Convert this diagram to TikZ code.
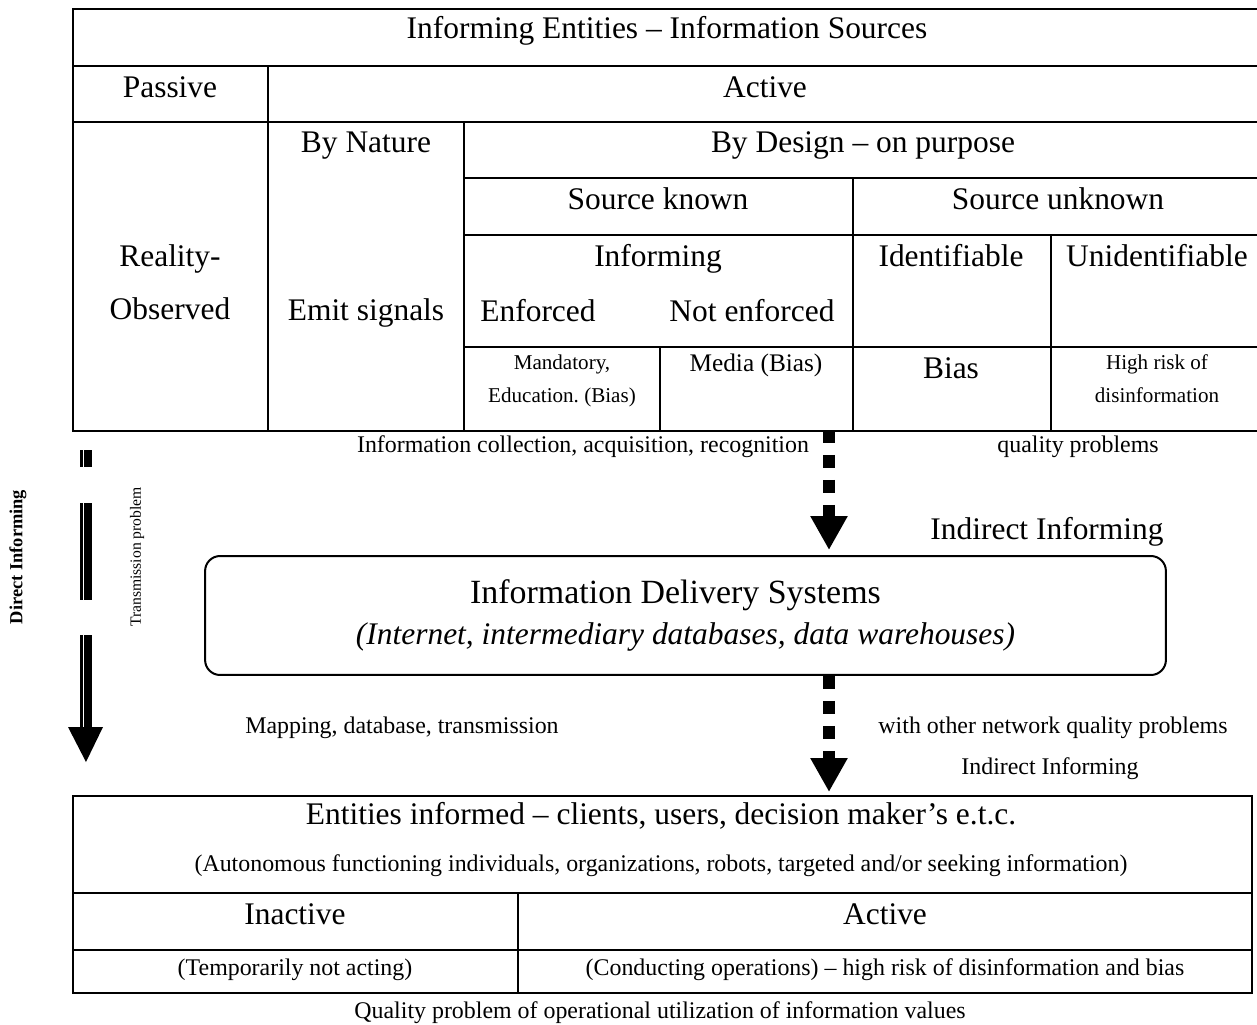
\documentclass[tikz,border=0pt]{standalone}
\usepackage{fontspec}
\setmainfont{Liberation Serif}
\usetikzlibrary{arrows.meta, calc}

\newcommand\bigsz{\fontsize{17.9}{23.2}\selectfont}
\newcommand\midsz{\fontsize{13.6}{16}\selectfont}
\newcommand\smallsz{\fontsize{12}{14}\selectfont}

\tikzset{
    % Table rules
    rule/.style={line width=0.04cm, black},
    % Text styles
    big text/.style={anchor=base, inner sep=0pt, font=\bigsz},
    mid text/.style={anchor=base, inner sep=0pt, font=\midsz},
    small text/.style={anchor=base, inner sep=0pt, font=\smallsz},
    % Table frames
    frame/.style={rule, draw, anchor=north west, inner sep=0pt},
    % Rounded system box
    system/.style={
        draw,
        rounded corners=0.3cm,
        line width=0.04cm,
        minimum width=19.22cm,
        minimum height=2.38cm,
        align=center,
        font=\bigsz
    },
    % Dashed block arrow
    dashflow/.style={
        line width=0.24cm,
        dash pattern=on 0.26cm off 0.24cm,
        -{Triangle[length=0.68cm, width=0.7cm]}
    },
    % Rails of the direct arrow
    thin rail/.style={line width=0.05cm},
    thick rail/.style={line width=0.155cm}
}

\begin{document}
\begin{tikzpicture}[x=0.02cm, y=-0.02cm]
        \useasboundingbox (0,0) rectangle (1257,1024);

        % Information sources table
        \node[frame, minimum width=23.8cm, minimum height=8.44cm] (src) at (72,8) {};
        \draw[rule] (72,66) -- (1262,66);
        \draw[rule] (72,122) -- (1262,122);
        \draw[rule] (268,66) -- (268,430);
        \draw[rule] (464,122) -- (464,430);
        \draw[rule] (464,178) -- (1262,178);
        \draw[rule] (464,235) -- (1262,235);
        \draw[rule] (853,178) -- (853,430);
        \draw[rule] (1051,235) -- (1051,430);
        \draw[rule] (464,347) -- (1262,347);
        \draw[rule] (660,347) -- (660,430);

        \node[big text] (title) at (667,39) {Informing Entities -- Information Sources};
        \node[big text] (passive) at (170,97) {Passive};
        \node[big text] (active) at (765,97) {Active};
        \node[big text] (nature) at (366,153) {By Nature};
        \node[big text] (design) at (863,153) {By Design -- on purpose};
        \node[big text] (known) at (658,209) {Source known};
        \node[big text] (unknown) at (1058,209) {Source unknown};
        \node[big text] (informing) at (658,266) {Informing};
        \node[big text] (ident) at (951,266) {Identifiable};
        \node[big text] (unident) at (1157,266) {Unidentifiable};
        \node[big text] (reality) at (170,266) {Reality-};
        \node[big text] (observed) at (170,319) {Observed};
        \node[big text] (emit) at (366,320) {Emit signals};
        \node[big text] (enforced) at (538,321) {Enforced};
        \node[big text] (notenf) at (752,321) {Not enforced};
        \node[small text] (mandatory) at (562,369) {Mandatory,};
        \node[small text] (education) at (562,402) {Education.\ (Bias)};
        \node[mid text, font=\fontsize{14.4}{17}\selectfont] (media) at (756,371) {Media (Bias)};
        \node[big text] (bias) at (951,378) {Bias};
        \node[small text] (highrisk) at (1157,369) {High risk of};
        \node[small text] (disinfo) at (1157,402) {disinformation};

        % Labels between the blocks
        \node[mid text] (collection) at (583,452) {Information collection, acquisition, recognition};
        \node[mid text] (quality) at (1078,452) {quality problems};
        \node[big text] (indirect) at (1047,539) {Indirect Informing};
        \node[mid text] (mapping) at (402,733) {Mapping, database, transmission};
        \node[mid text] (network) at (1053,733) {with other network quality problems};
        \node[mid text] (indirect2) at (1050,774) {Indirect Informing};

        % Delivery systems
        \node[system] (ids) at (685.5,615.5) {{\fontsize{19.3}{23.2}\selectfont Information Delivery Systems}\hspace*{0.4cm}\\\textit{(Internet, intermediary databases, data warehouses)}};

        % Informed entities table
        \node[frame, minimum width=23.58cm, minimum height=3.94cm] (users) at (72,795) {};
        \draw[rule] (72,893) -- (1251,893);
        \draw[rule] (72,950) -- (1251,950);
        \draw[rule] (518,893) -- (518,992);

        \node[big text] (entities) at (661,824) {Entities informed -- clients, users, decision maker’s e.t.c.};
        \node[mid text] (autonomous) at (661,871) {(Autonomous functioning individuals, organizations, robots, targeted and/or seeking information)};
        \node[big text] (inactive) at (295,924) {Inactive};
        \node[big text] (active2) at (885,924) {Active};
        \node[mid text] (temporarily) at (295,975) {(Temporarily not acting)};
        \node[mid text] (conducting) at (885,975) {(Conducting operations) -- high risk of disinformation and bias};
        \node[mid text] (utilization) at (660,1018) {Quality problem of operational utilization of information values};

        % Indirect flow
        \coordinate (collect) at (829,430);
        \draw[dashflow, shorten >=0.1cm] (collect) -- (collect |- ids.north);
        \draw[dashflow, shorten >=0.06cm] (collect |- ids.south) -- (collect |- users.north);

        % Direct flow
        \foreach \a/\b in {450/467, 503/600, 635/727} {
            \draw[thin rail] (81.3,\a) -- (81.3,\b);
            \draw[thick rail] (87.8,\a) -- (87.8,\b);
        }
        \coordinate (direct tip) at (86,762);
        \fill (68,727) -- (103,727) -- (direct tip) -- cycle;

        \node[rotate=90, font=\fontsize{10.5}{12}\selectfont\bfseries] (direct) at (18,557) {Direct Informing};
        \node[rotate=90, font=\fontsize{8.9}{11}\selectfont] (transmission) at (137,557) {Transmission problem};

    \end{tikzpicture}
\end{document}
